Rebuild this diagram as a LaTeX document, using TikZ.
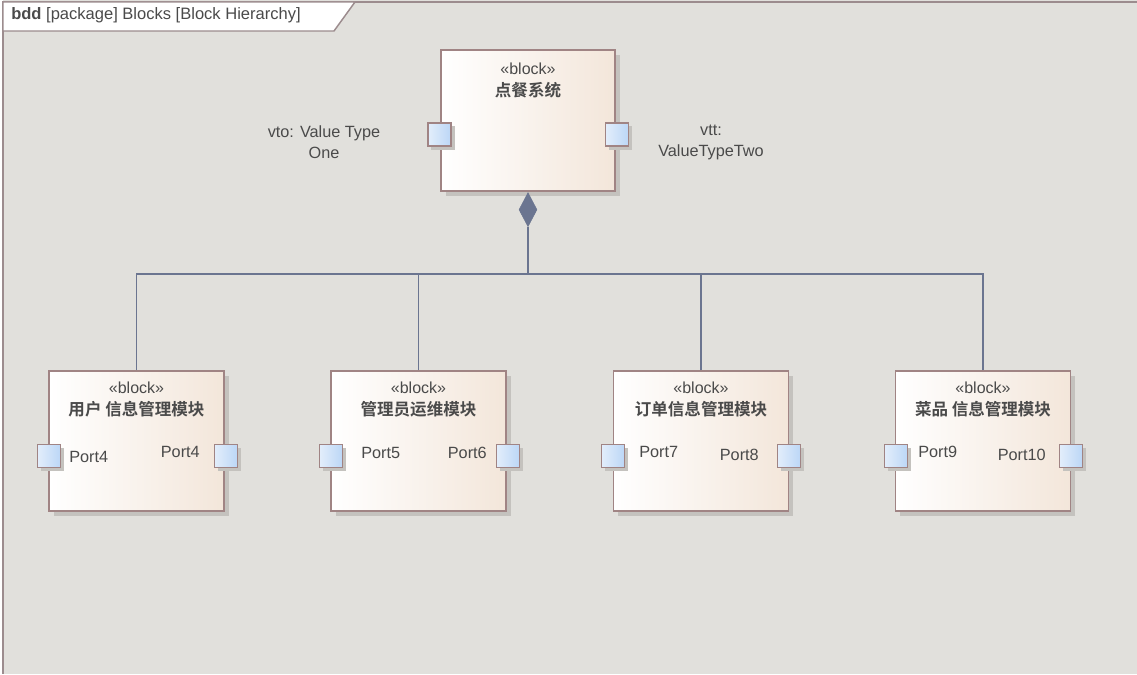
\documentclass[tikz,border=0pt]{standalone}
\usepackage{fontspec}
\setmainfont{Liberation Sans}
\newfontfamily\cjk{Noto Sans CJK SC}[BoldFont={Noto Sans CJK SC Bold}]
\usetikzlibrary{shapes.geometric,shadows}
\definecolor{bg}{HTML}{E1E0DC}
\definecolor{frameC}{HTML}{9C8C8E}
\definecolor{blkB}{HTML}{A08484}
\definecolor{blkR}{HTML}{F3E6DA}
\definecolor{prtL}{HTML}{E3EEFB}
\definecolor{prtR}{HTML}{BBD6F6}
\definecolor{lineC}{HTML}{6B7590}
\definecolor{txt}{HTML}{4A4A4A}
\definecolor{shd}{HTML}{C4C2BE}
\tikzset{
  x=0.75pt, y=-0.75pt,
  blk/.style={draw=blkB, line width=1.1pt, left color=white, right color=blkR,
    minimum width=131.25pt, minimum height=105pt, inner sep=0pt,
    drop shadow={shadow xshift=3.5pt, shadow yshift=-3.5pt, fill=shd, opacity=1}},
  topblk/.style={blk, minimum width=130.5pt, minimum height=105.75pt},
  prt/.style={draw=blkB, line width=1.1pt, left color=prtL, right color=prtR,
    minimum size=17.5pt, inner sep=0pt,
    drop shadow={shadow xshift=2.5pt, shadow yshift=-2.5pt, fill=shd, opacity=1}},
  stereo/.style={text=txt, font=\fontsize{12}{14}\selectfont, inner sep=0pt},
  bname/.style={text=txt, font=\cjk\bfseries\fontsize{12.4}{14}\selectfont, inner sep=0pt},
  lbl/.style={text=txt, font=\fontsize{12.2}{15.5}\selectfont, inner sep=0pt},
  conn/.style={draw=lineC, line width=1pt},
  comp/.style={diamond, fill=lineC, draw=lineC, inner sep=0pt, minimum width=13.5pt, minimum height=25.5pt, shape aspect=0.5}
}
\begin{document}
\begin{tikzpicture}
\useasboundingbox (0,0) rectangle (1137,674);
\fill[bg] (0,0) rectangle (1137,674);
\fill[white] (0,0) rectangle (3,674);
% frame
\draw[frameC, line width=1.4pt] (1137,2) -- (3,2) -- (3,674);
\draw[frameC, line width=1.1pt, fill=white] (3,2) -- (355,2) -- (334,31) -- (3,31) -- cycle;
\node[anchor=west, text=txt, font=\fontsize{12.4}{14}\selectfont, inner sep=0pt] (title) at (11,15)
  {\textbf{bdd} [package] Blocks [Block Hierarchy]};

% top block
\node[topblk] (top) at (528,120.5) {};
\node[stereo] (topS) at (528,69) {«block»};
\node[bname] (topN) at (528,90) {点餐系统};
\node[prt] (tp1) at (439.5,134.5) {};
\node[prt] (tp2) at (617,134.5) {};
\node[lbl, align=center] (vto) at (324,142.5) {vto: Value Type\\One};
\node[lbl, align=center] (vtt) at (711,142.5) {vtt:\\ValueTypeTwo};

% bottom blocks
\node[blk] (b1) at (136.5,441) {};
\node[blk] (b2) at (418.5,441) {};
\node[blk] (b3) at (701,441) {};
\node[blk] (b4) at (983,441) {};
\foreach \b/\n in {b1/用户 信息管理模块, b2/管理员运维模块, b3/订单信息管理模块, b4/菜品 信息管理模块}{
  \node[stereo] (\b S) at ([yshift=-13.5pt]\b.north) {«block»};
  \node[bname] (\b N) at ([yshift=-29.5pt]\b.north) {\n};
}
% ports
\node[prt] (p1a) at (49,456) {};
\node[prt] (p1b) at (226,456) {};
\node[prt] (p2a) at (331,456) {};
\node[prt] (p2b) at (508,456) {};
\node[prt] (p3a) at (613,456) {};
\node[prt] (p3b) at (789,456) {};
\node[prt] (p4a) at (896,456) {};
\node[prt] (p4b) at (1071,456) {};
\node[lbl, anchor=west] (l1a) at (69,457) {Port4};
\node[lbl, anchor=east] (l1b) at (200,452) {Port4};
\node[lbl, anchor=west] (l2a) at (361,453) {Port5};
\node[lbl, anchor=east] (l2b) at (487,453) {Port6};
\node[lbl, anchor=west] (l3a) at (639,452) {Port7};
\node[lbl, anchor=east] (l3b) at (759,455) {Port8};
\node[lbl, anchor=west] (l4a) at (918,452) {Port9};
\node[lbl, anchor=east] (l4b) at (1046,455) {Port10};

% composition
\node[comp, anchor=north] (dia) at ([yshift=-0.5pt]top.south) {};
\coordinate (j) at (dia.south |- 0,274);
\draw[conn] (dia.south) -- (j);
\draw[conn] (b1.north) |- (j);
\draw[conn] (b4.north) |- (j);
\draw[conn] (b2.north) -- (b2.north |- j);
\draw[conn] (b3.north) -- (b3.north |- j);
\end{tikzpicture}
\end{document}
